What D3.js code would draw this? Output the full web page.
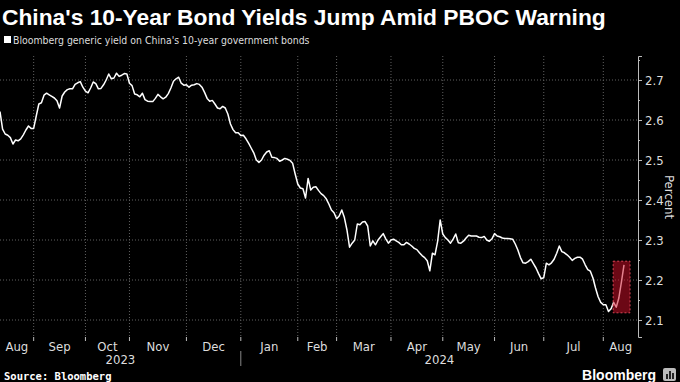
<!DOCTYPE html>
<html><head><meta charset="utf-8">
<script src="https://cdn.jsdelivr.net/npm/d3@7"></script>
<style>html,body{margin:0;padding:0;background:#000;} svg{display:block;}</style>
</head><body><svg id="c" width="680" height="382"></svg>
<script>
const title = "China's 10-Year Bond Yields Jump Amid PBOC Warning";
const subtitle = "Bloomberg generic yield on China's 10-year government bonds";
const sourceText = "Source: Bloomberg";
const yAxisTitle = "Percent";
const monthLabels = ["Aug","Sep","Oct","Nov","Dec","Jan","Feb","Mar","Apr","May","Jun","Jul","Aug"];
// trading-day index of the first session of each month
const monthStart = [0,13,33,50,72,93,115,130,151,171,191,210,233];
const yearLabels = ["2023","2024"];
const yearStart = [0,93];
const yTicks = [2.1,2.2,2.3,2.4,2.5,2.6,2.7];
const yMinorTicks = [2.15,2.25,2.35,2.45,2.55,2.65,2.75];
// daily yields (percent), one per trading day
const yields = [
 // Aug 2023
 2.621,2.577,2.565,2.562,2.556,2.540,2.550,2.548,2.553,2.563,2.575,2.585,2.579,
 // Sep
 2.579,2.610,2.640,2.643,2.662,2.667,2.663,2.659,2.655,2.648,2.630,2.660,2.670,2.676,2.678,2.678,2.689,2.693,2.696,2.682,
 // Oct
 2.672,2.668,2.680,2.695,2.691,2.678,2.679,2.688,2.700,2.715,2.703,2.705,2.717,2.709,2.712,2.716,2.715,
 // Nov
 2.692,2.686,2.665,2.663,2.658,2.667,2.651,2.647,2.646,2.646,2.654,2.664,2.658,2.653,2.657,2.666,2.680,2.697,2.703,2.707,2.692,2.687,
 // Dec
 2.688,2.682,2.687,2.688,2.691,2.689,2.682,2.669,2.654,2.647,2.649,2.640,2.630,2.628,2.634,2.630,2.615,2.590,2.576,2.568,2.568,
 // Jan 2024
 2.561,2.562,2.553,2.542,2.530,2.518,2.500,2.494,2.500,2.512,2.520,2.523,2.507,2.506,2.504,2.497,2.500,2.504,2.502,2.499,2.492,2.465,
 // Feb
 2.440,2.430,2.428,2.405,2.454,2.425,2.432,2.433,2.424,2.416,2.411,2.403,2.390,2.375,2.368,
 // Mar
 2.353,2.360,2.375,2.356,2.325,2.282,2.292,2.300,2.340,2.338,2.345,2.346,2.335,2.285,2.298,2.288,2.300,2.308,2.316,2.303,2.292,
 // Apr
 2.300,2.302,2.298,2.294,2.288,2.288,2.294,2.290,2.285,2.279,2.276,2.268,2.261,2.256,2.248,2.223,2.267,2.263,2.296,2.350,
 // May
 2.315,2.306,2.300,2.292,2.302,2.315,2.293,2.292,2.297,2.305,2.312,2.310,2.310,2.310,2.307,2.306,2.309,2.300,2.297,2.303,
 // Jun
 2.316,2.310,2.308,2.305,2.304,2.304,2.303,2.302,2.290,2.275,2.256,2.243,2.242,2.246,2.252,2.241,2.230,2.216,2.203,
 // Jul
 2.206,2.242,2.238,2.243,2.252,2.267,2.285,2.271,2.268,2.263,2.257,2.249,2.254,2.257,2.257,2.252,2.238,2.226,2.222,2.205,2.180,2.158,2.144,
 // Aug
 2.138,2.138,2.121,2.128,2.144,2.132,2.155,2.195,2.238
];
const highlightStart = 237;
const highlightRange = [2.118, 2.247];

const plot = {left: 0, right: 638, top: 56, bottom: 337};
const svg = d3.select("#c");
const FONT = "'Liberation Sans Narrow','DejaVu Sans Condensed',Roboto,'Liberation Sans',sans-serif";

const x = d3.scaleLinear().domain([0, 246.4]).range([plot.left, plot.right]);
const y = d3.scaleLinear().domain([2.0575, 2.76]).range([plot.bottom, plot.top]);

function fitText(sel, target) {
  const len = sel.node().getComputedTextLength();
  if (len > 0) {
    const fs = parseFloat(sel.attr("font-size"));
    sel.attr("font-size", (fs * target / len).toFixed(2));
  }
}

// title
const t = svg.append("text").attr("x", 2).attr("y", 25)
  .attr("font-family", "'Liberation Sans',Arial,sans-serif").attr("font-weight", "bold")
  .attr("font-size", 22).attr("fill", "#fff").text(title);
fitText(t, 604);

// subtitle + legend swatch
svg.append("rect").attr("x", 4).attr("y", 36).attr("width", 7).attr("height", 7).attr("fill", "#fff");
const st = svg.append("text").attr("x", 13).attr("y", 43.5)
  .attr("font-family", FONT).attr("font-size", 11).attr("fill", "#ddd").text(subtitle);
fitText(st, 297);

// grid
const grid = svg.append("g");
grid.selectAll("line.h").data(yTicks).join("line")
  .attr("x1", plot.left).attr("x2", plot.right)
  .attr("y1", d => y(d)).attr("y2", d => y(d))
  .attr("stroke", "#606060").attr("stroke-width", 1).attr("stroke-dasharray", "1,2");
grid.selectAll("line.v").data(monthStart.slice(1)).join("line")
  .attr("x1", d => x(d)).attr("x2", d => x(d))
  .attr("y1", plot.top).attr("y2", plot.bottom)
  .attr("stroke", "#606060").attr("stroke-width", 1).attr("stroke-dasharray", "1,2");

// line
const line = d3.line().x((d, i) => x(i)).y(d => y(d));
svg.append("path").datum(yields).attr("d", line)
  .attr("fill", "none").attr("stroke", "#fff").attr("stroke-width", 1.5)
  .attr("stroke-linejoin", "round");

// highlight box
const hx0 = x(highlightStart) - 0.5, hx1 = x(yields.length - 1) + 6;
svg.append("rect").attr("x", hx0).attr("y", y(highlightRange[1]))
  .attr("width", hx1 - hx0).attr("height", y(highlightRange[0]) - y(highlightRange[1]))
  .attr("fill", "#d01028").attr("fill-opacity", 0.52)
  .attr("stroke", "#d84455").attr("stroke-width", 1).attr("stroke-dasharray", "2,2");

// y axis
const yAxis = svg.append("g").attr("transform", `translate(${plot.right},0)`)
  .call(d3.axisRight(y).tickValues(yTicks).tickSize(4).tickPadding(3).tickFormat(d3.format(".1f")));
yAxis.select(".domain").attr("stroke", "#bbb");
yAxis.selectAll(".tick line").attr("stroke", "#bbb");
yAxis.selectAll("text").attr("fill", "#ddd").attr("font-size", 13).attr("font-family", FONT);
svg.append("g").attr("transform", `translate(${plot.right},0)`)
  .call(d3.axisRight(y).tickValues(yMinorTicks.filter(v => y(v) >= plot.top)).tickSize(2).tickFormat(""))
  .call(g => g.select(".domain").remove())
  .selectAll(".tick line").attr("stroke", "#bbb");

svg.append("text").attr("transform", `translate(665,197) rotate(90)`)
  .attr("text-anchor", "middle").attr("font-family", FONT).attr("font-size", 13)
  .attr("fill", "#ddd").text(yAxisTitle);

// x axis: month ticks and centered labels
const xAxisG = svg.append("g");
xAxisG.selectAll("line").data(monthStart.slice(1)).join("line")
  .attr("x1", d => x(d)).attr("x2", d => x(d))
  .attr("y1", plot.bottom).attr("y2", plot.bottom + 4)
  .attr("stroke", "#bbb");
const monthEnds = monthStart.slice(1).map(d => x(d)).concat([plot.right]);
xAxisG.selectAll("text").data(monthLabels).join("text")
  .attr("x", (d, i) => (x(monthStart[i]) + monthEnds[i]) / 2)
  .attr("y", 351).attr("text-anchor", "middle")
  .attr("font-family", FONT).attr("font-size", 13).attr("fill", "#ddd").text(d => d);

const yearEnds = [x(yearStart[1]), plot.right];
svg.selectAll("text.year").data(yearLabels).join("text").attr("class", "year")
  .attr("x", (d, i) => (x(yearStart[i]) + yearEnds[i]) / 2)
  .attr("y", 364).attr("text-anchor", "middle")
  .attr("font-family", FONT).attr("font-size", 13).attr("fill", "#ddd").text(d => d);
svg.append("line").attr("x1", x(yearStart[1])).attr("x2", x(yearStart[1]))
  .attr("y1", 351).attr("y2", 366).attr("stroke", "#888");

// footer
svg.append("text").attr("x", 4).attr("y", 380)
  .attr("font-family", "'DejaVu Sans Mono','Liberation Mono',monospace").attr("font-weight", "bold")
  .attr("font-size", 10.5).attr("fill", "#fff").text(sourceText);
svg.append("text").attr("x", 656).attr("y", 380).attr("text-anchor", "end")
  .attr("font-family", "'Liberation Sans',Arial,sans-serif").attr("font-weight", "bold")
  .attr("font-size", 14).attr("fill", "#fff").text("Bloomberg");
const icon = svg.append("g").attr("transform", "translate(663,368)");
icon.append("rect").attr("width", 13).attr("height", 13).attr("rx", 2).attr("fill", "#bbb");
[[3,6,2,5],[6,3,2,8],[9,5,2,6]].forEach(b =>
  icon.append("rect").attr("x", b[0]).attr("y", b[1]).attr("width", b[2]).attr("height", b[3]).attr("fill", "#222"));
</script></body></html>
